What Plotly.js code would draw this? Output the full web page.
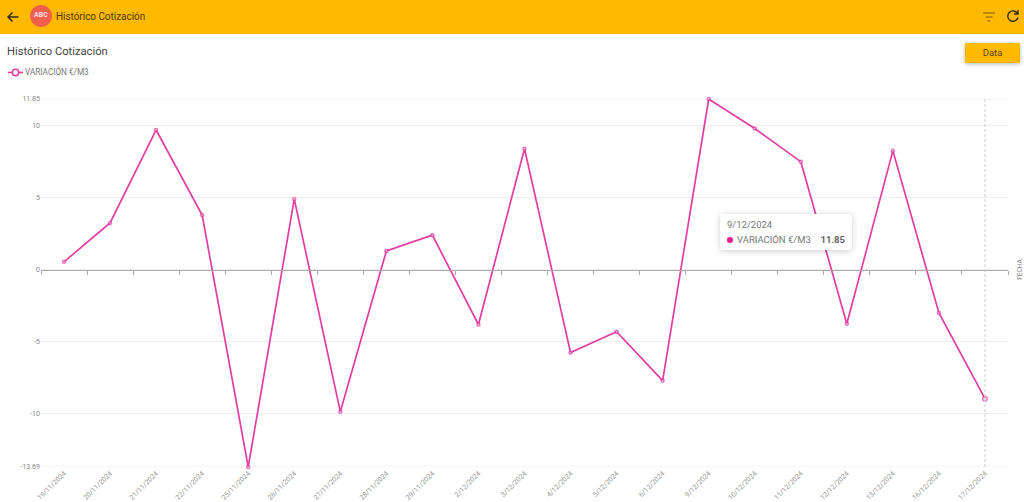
<!DOCTYPE html>
<html><head><meta charset="utf-8">
<script src="https://cdn.plot.ly/plotly-3.0.1.min.js"></script>
<style>
html,body{margin:0;padding:0;background:#fff;width:1024px;height:502px;overflow:hidden;font-family:Roboto,sans-serif}
#chart{position:absolute;left:0;top:0;width:1024px;height:502px}
#bar{position:absolute;left:0;top:0;width:1024px;height:34px;background:#ffb900;z-index:2}
#bar .t{position:absolute;left:56px;top:9px;font-size:11px;line-height:16px;color:#4a3a10;transform:scaleX(.9);transform-origin:left center;white-space:nowrap}
#logo{position:absolute;left:30px;top:5px;width:22px;height:22px;border-radius:50%;background:#f2604c;color:#fde;font-size:7px;font-weight:700;text-align:center;line-height:20px}
#bar svg{position:absolute}
#btn{position:absolute;left:965px;top:43px;width:55px;height:20px;background:#ffb900;color:#5a4510;font-size:9.5px;line-height:20px;text-align:center;border-radius:1px;box-shadow:0 1px 4px rgba(0,0,0,.3);z-index:2}
#tip{position:absolute;left:720px;top:214px;width:132px;height:36px;padding:0;background:#fff;border-radius:3px;box-shadow:0 1px 6px rgba(0,0,0,.2);z-index:2;color:#777;font-size:9.5px}
#tip div{position:absolute;white-space:nowrap}
#tip .dot{left:7px;top:22.5px;width:6px;height:6px;border-radius:50%;background:#e91e8c}
#leg{position:absolute;left:8px;top:66px;height:12px;z-index:2;color:#777;font-size:8.2px;line-height:13px;white-space:nowrap}
#leg svg{position:absolute;left:0;top:0}
#leg span{position:absolute;left:17px;top:0}
</style></head><body>
<div id="chart"></div>
<div id="bar">
<svg style="left:6px;top:10px" width="14" height="14" viewBox="0 0 14 14"><path d="M12.5 7H2M6.5 2.5L2 7l4.5 4.5" fill="none" stroke="#332a10" stroke-width="1.5"/></svg>
<div id="logo">ABC</div>
<div class="t">Histórico Cotización</div>
<svg style="left:982px;top:11px" width="14" height="12" viewBox="0 0 14 12"><path d="M1 2h12M3.5 6h7M5.5 10h3" stroke="#7a5f10" stroke-width="1.2"/></svg>
<svg style="left:1006px;top:9px" width="14" height="14" viewBox="0 0 14 14"><path d="M11.5 4.5A5.2 5.2 0 1 0 12 8.5M12 1v4H8" fill="none" stroke="#332a10" stroke-width="1.4"/></svg>
</div>
<div id="btn">Data</div>
<div id="tip">
<div style="left:7px;top:5px;font-size:9.5px">9/12/2024</div>
<div class="dot"></div>
<div style="left:17px;top:20px">VARIACIÓN €/M3</div>
<div style="right:7px;top:20px;font-weight:700;color:#666">11.85</div>
</div>
<div id="leg"><svg width="15" height="13" viewBox="0 0 15 13"><path d="M0 6.5h15" stroke="#e23da0" stroke-width="1.6"/><circle cx="7.5" cy="6.5" r="3.2" fill="#fff" stroke="#e23da0" stroke-width="1.5"/></svg><span>VARIACIÓN €/M3</span></div>
<script>
const fechas = ["19/11/2024","20/11/2024","21/11/2024","22/11/2024","25/11/2024","26/11/2024","27/11/2024","28/11/2024","29/11/2024","2/12/2024","3/12/2024","4/12/2024","5/12/2024","6/12/2024","9/12/2024","10/12/2024","11/12/2024","12/12/2024","13/12/2024","16/12/2024","17/12/2024"];
const variacion = [0.55,3.25,9.7,3.8,-13.69,4.9,-9.85,1.3,2.4,-3.8,8.4,-5.75,-4.3,-7.7,11.85,9.8,7.5,-3.75,8.25,-3,-8.95];
const yTicks = [-13.69,-10,-5,0,5,10,11.85];
const yMin = -13.69, yMax = 11.85;
const serieNombre = "VARIACIÓN €/M3";
const rosa = "#e23da0";
const last = fechas.length - 1;
const sizes = variacion.map((v,i)=> i===last ? 4.5 : 3);
const traces = [
 {x:fechas,y:variacion,type:"scatter",mode:"lines+markers",name:serieNombre,cliponaxis:false,
  line:{color:rosa,width:1.7},marker:{size:sizes,color:"#fff",line:{color:rosa,width:1.5}},hoverinfo:"skip"},
 {x:fechas,y:variacion,type:"scatter",mode:"lines",xaxis:"x2",showlegend:false,hoverinfo:"skip",line:{width:0},opacity:0}
];
const edgeLine = v => ({type:"line",xref:"paper",yref:"y",x0:0,x1:1,y0:v,y1:v,layer:"below",line:{color:"#eeeeee",width:1}});
const layout = {
 width:1024,height:502,paper_bgcolor:"#fff",plot_bgcolor:"#fff",
 margin:{l:41,r:16,t:99,b:35},
 font:{family:"Roboto, sans-serif",color:"#888",size:8},
 title:{text:"Histórico Cotización",font:{family:"Roboto, sans-serif",size:11.2,color:"#444"},x:7/1024,xref:"container",xanchor:"left",y:1-51.5/502,yref:"container",yanchor:"middle"},
 showlegend:false,
 xaxis:{type:"category",categoryorder:"array",categoryarray:fechas,range:[-0.5,20.5],tickangle:-45,showgrid:false,zeroline:false,showline:false,ticks:"",tickfont:{size:7,color:"#999"},automargin:false},
 xaxis2:{type:"category",categoryorder:"array",categoryarray:fechas,range:[-0.5,20.5],overlaying:"x",anchor:"free",position:(0-yMin)/(yMax-yMin),showgrid:false,zeroline:false,showline:true,linecolor:"#aaa",linewidth:1,ticks:"outside",tickson:"boundaries",ticklen:4,tickcolor:"#aaa",tickwidth:1,showticklabels:false},
 yaxis:{range:[yMin,yMax],tickmode:"array",tickvals:yTicks,ticktext:yTicks.map(String),showgrid:true,gridcolor:"#eeeeee",gridwidth:1,zeroline:false,showline:false,ticks:"",tickfont:{size:7,color:"#888"},automargin:false},
 shapes:[edgeLine(yMax),edgeLine(yMin),{type:"line",xref:"x",yref:"paper",x0:fechas[last],x1:fechas[last],y0:0,y1:1,line:{color:"#ccc",width:1,dash:"3px,2px"}}],
 annotations:[{text:"FECHA",xref:"paper",yref:"y",x:1.0125,y:0,xanchor:"center",yanchor:"middle",showarrow:false,textangle:-90,font:{size:6.5,color:"#888"}}]
};
Plotly.newPlot("chart",traces,layout,{displayModeBar:false,staticPlot:true});
</script>
</body></html>
